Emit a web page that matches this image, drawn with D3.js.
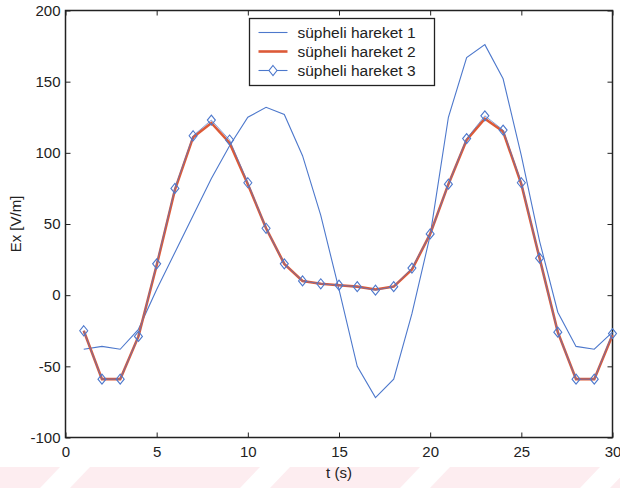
<!DOCTYPE html>
<html>
<head>
<meta charset="utf-8">
<script src="https://cdn.jsdelivr.net/npm/d3@7"></script>
<style>
body { margin: 0; background: #fff; }
text { font-family: "Liberation Sans", Arial, sans-serif; fill: #222; }
</style>
</head>
<body>
<div class="container"></div>
<script>
var svgWidth = 620;
var svgHeight = 488;

var chartMargin = { top: 10.5, bottom: 50.5, left: 65.5, right: 7.5 };
var chartWidth = svgWidth - chartMargin.left - chartMargin.right;
var chartHeight = svgHeight - chartMargin.top - chartMargin.bottom;

// data
var tValues = [1, 2, 3, 4, 5, 6, 7, 8, 9, 10, 11, 12, 13, 14, 15, 16, 17, 18, 19, 20, 21, 22, 23, 24, 25, 26, 27, 28, 29, 30];
var hareket1 = [-38, -36, -38, -24, 4, 30, 56, 82, 105, 125, 132, 127, 98, 56, 4, -50, -72, -59, -13, 42, 125, 167, 176, 152, 98, 38, -12, -36, -38, -26];
var hareket2 = [-25, -59, -59, -29, 21, 74, 111, 121, 107, 78, 47, 22, 10, 8, 7, 6, 4, 6, 18, 43, 78, 109, 124, 115, 78, 26, -26, -59, -59, -28];
var hareket3 = [-25, -59, -59, -29, 22, 75, 112, 123, 109, 79, 47, 22, 10, 8, 7, 6, 3.5, 6, 19, 43, 78, 110, 126, 116, 79, 26, -26, -59, -59, -27];
var seriesNames = ["süpheli hareket 1", "süpheli hareket 2", "süpheli hareket 3"];
var xTicks = [0, 5, 10, 15, 20, 25, 30];
var yTicks = [-100, -50, 0, 50, 100, 150, 200];

var blue = "#4d78cc";
var red = "#dc5a38";

var svg = d3.select(".container")
    .append("svg")
    .attr("width", svgWidth)
    .attr("height", svgHeight);

// faint pink watermark at the bottom
var wm = svg.append("g");
wm.append("rect")
    .attr("x", 0).attr("y", 467).attr("width", svgWidth).attr("height", 21)
    .attr("fill", "#fdedf0");
[60, 260, 420, 600].forEach(function (x0) {
    wm.append("path")
        .attr("d", `M${x0},467 L${x0 + 30},467 L${x0 + 10},488 L${x0 - 20},488 Z`)
        .attr("fill", "#fff");
});

var chartGroup = svg.append("g")
    .attr("transform", `translate(${chartMargin.left}, ${chartMargin.top})`);

var xScale = d3.scaleLinear().domain([0, 30]).range([0, chartWidth]);
var yScale = d3.scaleLinear().domain([-100, 200]).range([chartHeight, 0]);

chartGroup.append("rect")
    .attr("width", chartWidth).attr("height", chartHeight)
    .attr("fill", "#fff");

// axes, MATLAB style: inward ticks on all four sides
function styleAxis(g) {
    g.select(".domain").remove();
    g.selectAll("line").attr("stroke", "#222");
    g.selectAll("text").style("font-size", "15px").style("fill", "#222");
}
var plain = d => String(d); // hyphen minus, like the original
chartGroup.append("g")
    .attr("transform", `translate(0, ${chartHeight})`)
    .call(d3.axisBottom(xScale).tickValues(xTicks).tickSizeInner(-5).tickSizeOuter(0).tickPadding(9).tickFormat(plain))
    .call(styleAxis);
chartGroup.append("g")
    .call(d3.axisLeft(yScale).tickValues(yTicks).tickSizeInner(-5).tickSizeOuter(0).tickPadding(5).tickFormat(plain))
    .call(styleAxis);
chartGroup.append("g")
    .call(d3.axisTop(xScale).tickValues(xTicks).tickSizeInner(-5).tickSizeOuter(0).tickFormat(""))
    .call(styleAxis);
chartGroup.append("g")
    .attr("transform", `translate(${chartWidth}, 0)`)
    .call(d3.axisRight(yScale).tickValues(yTicks).tickSizeInner(-5).tickSizeOuter(0).tickFormat(""))
    .call(styleAxis);

chartGroup.append("rect")
    .attr("width", chartWidth).attr("height", chartHeight)
    .attr("fill", "none").attr("stroke", "#222").attr("stroke-width", 1.5);

var line = d3.line()
    .x((d, i) => xScale(tValues[i]))
    .y(d => yScale(d));

chartGroup.append("path")
    .datum(hareket1)
    .attr("d", line)
    .attr("fill", "none").attr("stroke", blue).attr("stroke-width", 1.1);

chartGroup.append("path")
    .datum(hareket2)
    .attr("d", line)
    .attr("fill", "none").attr("stroke", red).attr("stroke-width", 2.6);

chartGroup.append("path")
    .datum(hareket3)
    .attr("d", line)
    .attr("fill", "none").attr("stroke", blue).attr("stroke-width", 1).attr("opacity", 0.7);

var diamond = "M0,-5 L4,0 L0,5 L-4,0 Z";
chartGroup.selectAll(".marker")
    .data(hareket3)
    .enter()
    .append("path")
    .classed("marker", true)
    .attr("d", diamond)
    .attr("transform", (d, i) => `translate(${xScale(tValues[i])}, ${yScale(d)})`)
    .attr("fill", "none").attr("stroke", blue).attr("stroke-width", 1.1);

// axis labels
svg.append("text")
    .attr("x", chartMargin.left + chartWidth / 2)
    .attr("y", 478)
    .attr("text-anchor", "middle")
    .style("font-size", "15px")
    .text("t (s)");
svg.append("text")
    .attr("transform", `translate(21, ${chartMargin.top + chartHeight / 2}) rotate(-90)`)
    .attr("text-anchor", "middle")
    .style("font-size", "15px")
    .text("Ex [V/m]");

// legend
var legend = svg.append("g").attr("transform", "translate(249.5, 18.5)");
legend.append("rect")
    .attr("width", 185).attr("height", 67)
    .attr("fill", "#fff").attr("stroke", "#222").attr("stroke-width", 1.3);
var rows = legend.selectAll(".row")
    .data(seriesNames)
    .enter()
    .append("g")
    .attr("transform", (d, i) => `translate(0, ${14 + i * 19})`);
rows.append("line")
    .attr("x1", 9).attr("x2", 38)
    .attr("stroke", (d, i) => i === 1 ? red : blue)
    .attr("stroke-width", (d, i) => i === 1 ? 2.6 : 1.1);
rows.filter((d, i) => i === 2)
    .append("path")
    .attr("d", diamond)
    .attr("transform", "translate(23.5, 0)")
    .attr("fill", "#fff").attr("stroke", blue).attr("stroke-width", 1.1);
rows.append("text")
    .attr("x", 48)
    .attr("dy", "0.35em")
    .style("font-size", "15.5px")
    .text(d => d);
</script>
</body>
</html>
